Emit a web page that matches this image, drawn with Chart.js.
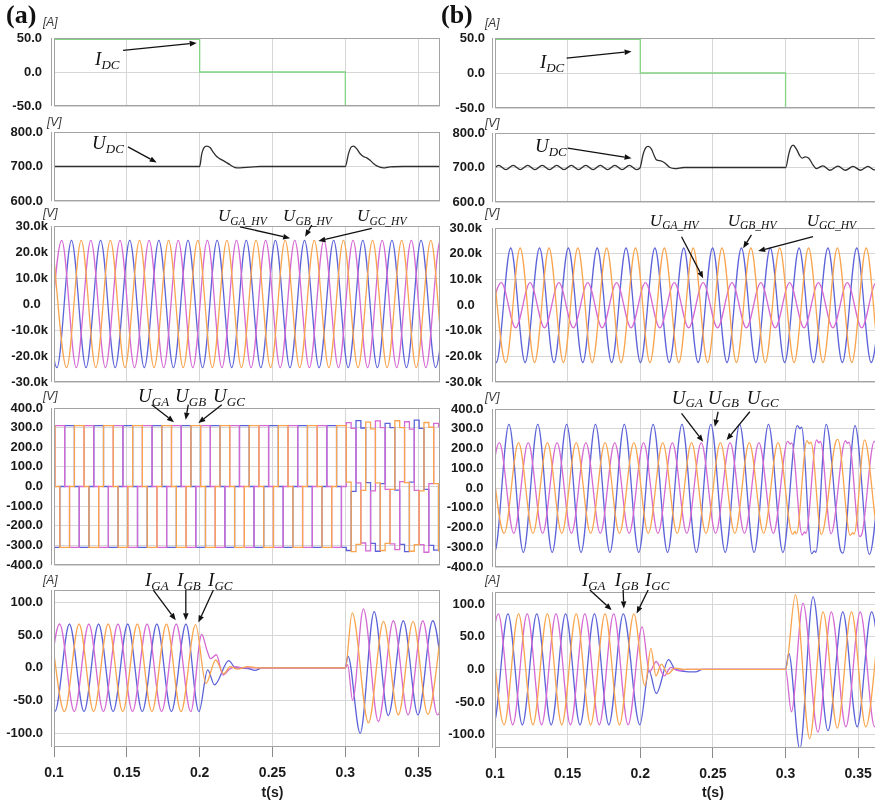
<!DOCTYPE html>
<html>
<head>
<meta charset="utf-8">
<title>Grid-side converter waveforms</title>
<script src="https://cdn.jsdelivr.net/npm/chart.js@4.4.1/dist/chart.umd.min.js"></script>
<style>
  html, body { margin: 0; padding: 0; background: #fff; }
  body { position: relative; width: 875px; height: 803px; overflow: hidden; font-family: "Liberation Sans", Arial, sans-serif; }
  canvas { position: absolute; }
  svg { position: absolute; left: 0; top: 0; z-index: 5; }
  .txt { position: absolute; white-space: nowrap; line-height: 1; z-index: 6; }
  .tag { font-family: "Liberation Serif", "Times New Roman", serif; font-weight: bold; font-size: 26px; color: #111; }
  .unit { font-style: italic; font-size: 12px; color: #3a3a3a; transform: translateY(-50%); }
  .sig { font-family: "Liberation Serif", "Times New Roman", serif; font-style: italic; color: #111; transform: translateY(-50%); }
  .sig sub { vertical-align: baseline; position: relative; top: 0.3em; }
  .ttl { font-weight: bold; font-size: 14px; color: #1a1a1a; transform: translate(-50%, -50%); }
</style>
</head>
<body>
<svg id="arrows" width="875" height="803"></svg>
<script>
// ===================== data (time in ms) =====================
const X_TICKS = [0.1, 0.15, 0.2, 0.25, 0.3, 0.35];
const TICKS_IDC = [-50, 0, 50];
const TICKS_UDC = [600, 700, 800];
const TICKS_UHV = [-30000, -20000, -10000, 0, 10000, 20000, 30000];
const TICKS_UG = [-400, -300, -200, -100, 0, 100, 200, 300, 400];
const TICKS_IG = [-100, -50, 0, 50, 100];

const HALF_A = 10;      // half period of the ac quantities, case (a)
const HALF_B = 9.925;   // half period, case (b)
const SECTOR = 10 / 3;  // 60-degree switching sector, ms

// ---------- case (a) ----------
const idcA = [[100,48],[200,48],[200,0],[300,0],[300,-50],[366,-50]];
const udcA = [[100,700],[200,700],[201.4,736],[203,755],[204.9,759],[207.1,755],[209.4,741],[211.7,729],[214,722],[216.3,717],[220.9,705],[224.3,697],[227.7,696],[234.6,698],[241.5,700],[300,700],[302.1,736],[303.8,755],[305.6,759],[307.9,751],[310.2,737],[312.4,729],[314.7,725],[317,718],[319.3,709],[321.6,702],[326.2,696],[330.8,699],[340,700],[366,700]];

// HV-side voltages: first extreme (ms) of GA, GB, GC, then successive extremes
const uhvStartA = [95.3, 92.0, 98.7];
const uhvGA_a = [-24500,24500,-24500,24500,-24500,24500,-24500,24500,-24500,24500,-24500,24500,-24500,24500,-24500,24500,-24500,24500,-24500,24500,-24500,24500,-24500,24500,-24500,24500,-24500,24500,-24500];
const uhvGB_a = [24500,-24500,24500,-24500,24500,-24500,24500,-24500,24500,-24500,24500,-24500,24500,-24500,24500,-24500,24500,-24500,24500,-24500,24500,-24500,24500,-24500,24500,-24500,24500,-24500,24500];
const uhvGC_a = [24500,-24500,24500,-24500,24500,-24500,24500,-24500,24500,-24500,24500,-24500,24500,-24500,24500,-24500,24500,-24500,24500,-24500,24500,-24500,24500,-24500,24500,-24500,24500,-24500,24500];

// converter voltages: level held in each 60-degree sector, first sector starts at 97.33 ms
const ugStartA = 97.33;
const ugGA_a = [0,310,310,0,-310,-310, 0,310,310,0,-310,-310, 0,310,310,0,-310,-310, 0,310,310,0,-310,-310, 0,310,310,0,-310,-310,
  0,310,310,0,-310,-310, 0,310,310,0,-310,-310, 0,310,310,0,-310,-310, 0,310,310,0,-310,-310, 0,310,310,0,-310,-310,
  0, 325,296,18,-288,-328,-22,334,300,-15,-292,-322,25,330,292,-20,-296,-335,15,322,305,0];
const ugGB_a = [-310,-310,0,310,310,0, -310,-310,0,310,310,0, -310,-310,0,310,310,0, -310,-310,0,310,310,0, -310,-310,0,310,310,0,
  -310,-310,0,310,310,0, -310,-310,0,310,310,0, -310,-310,0,310,310,0, -310,-310,0,310,310,0, -310,-310,0,310,310,0,
  -310, -326,-25,336,298,20,-290,-330,15,322,300,-18,-295,-332,22,338,296,-15,-300,-324,12,300];
const ugGC_a = [310,0,-310,-310,0,310, 310,0,-310,-310,0,310, 310,0,-310,-310,0,310, 310,0,-310,-310,0,310, 310,0,-310,-310,0,310,
  310,0,-310,-310,0,310, 310,0,-310,-310,0,310, 310,0,-310,-310,0,310, 310,0,-310,-310,0,310, 310,0,-310,-310,0,310,
  310, 22,-332,-295,-20,328,294,18,-326,-290,-15,335,300,20,-330,-296,-22,326,302,15,-328,-300];

// grid currents: steady extremes, then the blocking / restart transients
const igStartA = [93.9, 90.6, 97.2];
const igGA_a = [-67,67,-67,67,-67,67,-67,67,-67,67,-67];
const igGB_a = [67,-67,67,-67,67,-67,67,-67,67,-67,67];
const igGC_a = [67,-67,67,-67,67,-67,67,-67,67,-67,66];
const igGA_aTail = [[201.4,51],[205,27],[207.5,14],[211.5,20],[216,-11],[220.5,-2],[224.5,2],[229,0],[300,0],[301.6,5],[305,-50],[312.4,90],[322.7,-82],[333,72],[343.1,-72],[353.2,72],[363.3,-72],[373.4,72]];
const igGB_aTail = [[199.5,-67],[205.5,-3],[210.2,-26],[220,11],[224.5,0],[233,-1],[238,-4],[243,0],[300,0],[301.8,18],[310.2,-100],[319.8,86],[329.5,-73],[339.8,72],[349.9,-72],[360,72],[370,-72]];
const igGC_aTail = [[204.3,-24],[211,12],[216.5,-9],[221,2],[226,-2],[233,2],[240,0],[300,0],[304.7,84],[315.9,-84],[326.2,71],[336.4,-72],[346.5,71],[356.6,-71],[366.7,71]];

// ---------- case (b) ----------
const idcB = [[100,48],[200,48],[200,0],[300,0],[300,-50],[366,-50]];
const udcB = [[100,700],[102.5,706],[107.5,694],[112.5,706],[117.5,694],[122.5,706],[127.5,694],[132.5,706],[137.5,694],[142.5,706],[147.5,694],[152.5,706],[157.5,694],[162.5,706],[167.5,694],[172.5,706],[177.5,694],[182.5,706],[187.5,694],[192.5,706],[197.5,694],[199.7,698],[202,739],[203.6,756],[205.4,761],[207.7,753],[209.6,734],[211.2,722],[214.2,719.5],[216.9,713],[220.4,700],[223.8,697],[230,700],[300.1,700],[302.2,739],[303.6,758],[305.2,765],[307.5,753],[309.8,734],[311.4,727],[313.5,731],[316,727],[319,707],[321.3,697],[325.8,705],[330.4,692],[336.1,704],[341.2,692],[346.4,703],[351.7,692],[356.7,703],[361.3,693],[366,703]];

const uhvStartB = [94.375, 90.95, 97.475];
const uhvGA_b = [-8900,8700,-8900,8700,-8900,8700,-8900,8700,-8900,8700,-8900,8700,-8900,8700,-8900,8700,-8900,8700,-8900,8700,-8900,8700,-8900,8700,-8900,8700,-8900,8700,-8900];
const uhvGB_b = [22200,-22400,22200,-22400,22200,-22400,22200,-22400,22200,-22400,22200,-22400,22200,-22400,22200,-22400,22200,-22400,22200,-22400,22200,-22400,22200,-22400,22200,-22400,22200,-22400,22200];
const uhvGC_b = [22200,-22400,22200,-22400,22200,-22400,22200,-22400,22200,-22400,22200,-22400,22200,-22400,22200,-22400,22200,-22400,22200,-22400,22200,-22400,22200,-22400,22200,-22400,22200,-22400,22200];

const ugStartB = [93.075, 89.75, 96.35];
const ugGA_b = [-230,230,-230,230,-230,230,-230,230,-230,230,-230,230,-230,230,-230,230,-230,230,-230,230,-230];
const ugGB_b = [322,-326,322,-326,322,-326,322,-326,322,-326,322,-326,322,-326,322,-326,322,-326,322,-326,322,-326];
const ugGC_b = [230,-230,230,-230,230,-230,230,-230,230,-230,230,-230,230,-230,230,-230,230,-230,230,-230,230];
const ugGA_bTail = [[301.5,236],[303.2,222],[304.2,228],[311.4,-238],[313,-222],[314,-230],[321.35,244],[323,228],[324,236],[331.3,-232],[341.2,240],[342.6,226],[343.6,232],[351.1,-246],[352.7,-230],[361.05,236],[371,-236]];
const ugGB_bTail = [[308.1,316],[310,300],[311,308],[318,-333],[319.8,-318],[320.8,-326],[327.95,322],[337.9,-318],[339.5,-330],[347.8,316],[357.7,-336],[367.6,318]];
const ugGC_bTail = [[304.8,-234],[306.5,-220],[307.5,-232],[314.7,240],[316.4,224],[317.5,232],[324.6,-236],[334.5,234],[336,246],[344.5,-240],[346.2,-226],[347.2,-234],[354.4,244],[364.3,-238],[374.2,236]];

const igStartB = [92.375, 89.05, 96.35];
const igGA_b = [-85,85,-85,85,-85,85,-85,85,-85,85,-85];
const igGB_b = [85,-85,85,-85,85,-85,85,-85,85,-85,85];
const igGC_b = [85,-85,85,-85,85,-85,85,-85,85,-85,85];
const igGA_bTail = [[201.3,65],[206.3,-4],[211,12],[216.5,-10],[221,3],[226,-2],[232,0],[300,0],[304,-65],[312,101],[322.3,-96],[331.5,88],[341.5,-88],[351.4,88],[361.3,-88],[371.2,88]];
const igGB_bTail = [[199.7,-85],[206,-2],[211,-37],[219.5,15],[224,0],[238,-4],[243,0],[300,0],[302.2,25],[309.8,-122],[318.9,111],[329.2,-94],[339.4,88],[349.3,-88],[359.2,88],[369.1,-88]];
const igGC_bTail = [[203.2,-25],[207.3,32],[210.8,-10],[214.5,8],[219,-7],[224,2],[230,0],[300,0],[306.8,114],[316.6,-106],[325.8,88],[335.6,-90],[345.4,88],[355.2,-88],[365.1,88]];

// ===================== look =====================
const PINK = '#d56ad3', BLUE = '#5c63d8', ORANGE = '#f9a54f', GREEN = '#84d484', DARK = '#2e2e2e';
const GRID = '#d6d6d6', FRAME = '#a3a3a3';

const COLS = {
  a: { left: 54, width: 386, rows: [[38,106],[132,201],[226,382],[408,565],[590,747]], pad: [12, 11, 6, 11, 11] },
  b: { left: 495, width: 385, rows: [[38,108],[133,202],[228,382],[409,567],[592,748]], pad: [10, 10, 13, 11.5, 10] }
};

const f1 = v => v.toFixed(1);
const fk = v => v === 0 ? '0.0\u2007' : (v / 1000).toFixed(1) + 'k';
const Y_AXES = [
  { min: -50, max: 50, ticks: TICKS_IDC, fmt: f1 },
  { min: 600, max: 800, ticks: TICKS_UDC, fmt: f1 },
  { min: -30000, max: 30000, ticks: TICKS_UHV, fmt: fk },
  { min: -400, max: 400, ticks: TICKS_UG, fmt: f1 },
  { min: -121, max: 119, ticks: TICKS_IG, fmt: f1 }
];

// ===================== helpers =====================
const toXY = p => ({ x: p[0] / 1000, y: p[1] });
const swing = (t0, half, vals) => vals.map((v, i) => [t0 + i * half, v]);

function wave(points, color) {
  return { data: points.map(toXY), borderColor: color, borderWidth: 1.3, pointRadius: 0, fill: false, cubicInterpolationMode: 'monotone' };
}
function straight(points, color) {
  return { data: points.map(toXY), borderColor: color, borderWidth: 1.3, pointRadius: 0, fill: false, tension: 0 };
}
function steps(points, color) {
  return { data: points.map(toXY), borderColor: color, borderWidth: 1.3, pointRadius: 0, fill: false, stepped: true };
}

const framePlugin = {
  id: 'frame',
  afterDraw(chart) {
    const { ctx, chartArea: a } = chart;
    ctx.save();
    ctx.strokeStyle = FRAME;
    ctx.lineWidth = 1;
    ctx.strokeRect(a.left + 0.5, a.top + 0.5, a.right - a.left - 1, a.bottom - a.top - 1);
    ctx.beginPath();
    ctx.moveTo(a.left - 2.5, a.top);
    ctx.lineTo(a.left - 2.5, a.bottom);
    ctx.stroke();
    ctx.restore();
  }
};

const charts = {};
function makeChart(col, row, datasets) {
  const C = COLS[col];
  const [top, bottom] = C.rows[row];
  const last = row === 4;
  const PAD = 30, YW = 54, PR = 20;
  const xh = last ? 803 - bottom : 0;
  const w = YW + C.width + PR;
  const h = PAD + (bottom - top) + (last ? xh : PAD);
  const cv = document.createElement('canvas');
  cv.width = w; cv.height = h;
  cv.style.width = w + 'px'; cv.style.height = h + 'px';
  cv.style.left = (C.left - YW) + 'px';
  cv.style.top = (top - PAD) + 'px';
  document.body.appendChild(cv);
  const Y = Object.assign({}, Y_AXES[row]);
  if (col === 'b' && row === 4) { Y.min = -120.5; Y.max = 118.5; }
  const chart = new Chart(cv, {
    type: 'line',
    data: { datasets },
    plugins: [framePlugin],
    options: {
      responsive: false, animation: false, devicePixelRatio: 1, events: [],
      layout: { padding: { left: 0, right: PR, top: PAD, bottom: last ? 0 : PAD } },
      plugins: { legend: { display: false }, tooltip: { enabled: false } },
      elements: { line: { capBezierPoints: false } },
      scales: {
        x: {
          type: 'linear', min: 0.1, max: 0.365,
          afterBuildTicks: s => { s.ticks = X_TICKS.map(v => ({ value: v })); },
          afterFit: s => { s.height = xh; },
          border: { display: false },
          grid: { color: GRID, lineWidth: 1, drawTicks: last, tickLength: 10, tickColor: '#8a8a8a' },
          ticks: {
            display: last, padding: 8, maxRotation: 0, autoSkip: false, color: '#1a1a1a',
            font: { family: 'Liberation Sans', size: 14, weight: 'bold' },
            callback: v => String(v)
          }
        },
        y: {
          min: Y.min, max: Y.max,
          afterBuildTicks: s => { s.ticks = Y.ticks.map(v => ({ value: v })); },
          afterFit: s => { s.width = YW; },
          border: { display: false },
          grid: { color: GRID, lineWidth: 1, drawTicks: false },
          ticks: {
            padding: C.pad[row], color: '#1a1a1a', autoSkip: false,
            font: { family: 'Liberation Sans', size: 13, weight: 'bold' },
            callback: v => Y.fmt(v)
          }
        }
      }
    }
  });
  charts[col + (row + 1)] = chart;
  return chart;
}

// ===================== panels =====================
// (a)
makeChart('a', 0, [straight(idcA, GREEN)]);
makeChart('a', 1, [wave(udcA, DARK)]);
makeChart('a', 2, [
  wave(swing(uhvStartA[2], HALF_A, uhvGC_a), ORANGE),
  wave(swing(uhvStartA[0], HALF_A, uhvGA_a), PINK),
  wave(swing(uhvStartA[1], HALF_A, uhvGB_a), BLUE)
]);
makeChart('a', 3, [
  steps(swing(ugStartA, SECTOR, ugGC_a), ORANGE),
  steps(swing(ugStartA, SECTOR, ugGA_a), PINK),
  steps(swing(ugStartA, SECTOR, ugGB_a), BLUE)
]);
makeChart('a', 4, [
  wave(swing(igStartA[2], HALF_A, igGC_a).concat(igGC_aTail), ORANGE),
  wave(swing(igStartA[0], HALF_A, igGA_a).concat(igGA_aTail), PINK),
  wave(swing(igStartA[1], HALF_A, igGB_a).concat(igGB_aTail), BLUE)
]);
// (b)
makeChart('b', 0, [straight(idcB, GREEN)]);
makeChart('b', 1, [wave(udcB, DARK)]);
makeChart('b', 2, [
  wave(swing(uhvStartB[2], HALF_B, uhvGC_b), ORANGE),
  wave(swing(uhvStartB[0], HALF_B, uhvGA_b), PINK),
  wave(swing(uhvStartB[1], HALF_B, uhvGB_b), BLUE)
]);
makeChart('b', 3, [
  wave(swing(ugStartB[2], HALF_B, ugGC_b).concat(ugGC_bTail), ORANGE),
  wave(swing(ugStartB[0], HALF_B, ugGA_b).concat(ugGA_bTail), PINK),
  wave(swing(ugStartB[1], HALF_B, ugGB_b).concat(ugGB_bTail), BLUE)
]);
makeChart('b', 4, [
  wave(swing(igStartB[2], HALF_B, igGC_b).concat(igGC_bTail), ORANGE),
  wave(swing(igStartB[0], HALF_B, igGA_b).concat(igGA_bTail), PINK),
  wave(swing(igStartB[1], HALF_B, igGB_b).concat(igGB_bTail), BLUE)
]);

// ===================== text and arrows =====================
function at(key, tms, v) {
  const c = charts[key];
  return [parseFloat(c.canvas.style.left) + c.scales.x.getPixelForValue(tms / 1000),
          parseFloat(c.canvas.style.top) + c.scales.y.getPixelForValue(v)];
}
function addText(cls, html, x, y, style) {
  const d = document.createElement('div');
  d.className = 'txt ' + cls;
  d.innerHTML = html;
  d.style.left = x + 'px';
  d.style.top = y + 'px';
  if (style) d.style.cssText += style;
  document.body.appendChild(d);
  return d;
}
const svg = document.getElementById('arrows');
function arrow(p, q) {
  const NS = 'http://www.w3.org/2000/svg';
  const dx = q[0] - p[0], dy = q[1] - p[1], L = Math.hypot(dx, dy);
  const ux = dx / L, uy = dy / L, hl = 7, hw = 2.8;
  const bx = q[0] - ux * hl, by = q[1] - uy * hl;
  const ln = document.createElementNS(NS, 'line');
  ln.setAttribute('x1', p[0]); ln.setAttribute('y1', p[1]);
  ln.setAttribute('x2', bx); ln.setAttribute('y2', by);
  ln.setAttribute('stroke', '#111'); ln.setAttribute('stroke-width', '1.3');
  svg.appendChild(ln);
  const pg = document.createElementNS(NS, 'polygon');
  pg.setAttribute('points', `${q[0]},${q[1]} ${bx - uy * hw},${by + ux * hw} ${bx + uy * hw},${by - ux * hw}`);
  pg.setAttribute('fill', '#111');
  svg.appendChild(pg);
}

// signal names: [panel, letter, subscript, main size, sub size, label anchor (ms, value), arrow tail, arrow head]
const NOTES = [
  ['a1', 'I', 'DC', 19, 13, [128.2, 20], [147.4, 31.9], [198, 42.7]],
  ['a2', 'U', 'DC', 19, 13, [126.1, 771.7], [150.8, 756.7], [170.5, 711.7]],
  ['a3', 'U', 'GA_HV', 17, 11.5, [212.6, 34200], [227.7, 29700], [262.1, 25300]],
  ['a3', 'U', 'GB_HV', 17, 11.5, [257.3, 34200], [277, 30400], [272.4, 25900]],
  ['a3', 'U', 'GC_HV', 17, 11.5, [308.1, 34200], [318.2, 29100], [281.5, 24200]],
  ['a4', 'U', 'GA', 19, 13, [157.7, 468], [167.1, 417], [182.4, 328]],
  ['a4', 'U', 'GB', 19, 13, [183.1, 468], [192.2, 417], [190.4, 340]],
  ['a4', 'U', 'GC', 19, 13, [209.2, 468], [215.2, 417], [199.1, 323]],
  ['a5', 'I', 'GA', 19, 13, [162.5, 135.7], [168.2, 118.9], [183.6, 72.9]],
  ['a5', 'I', 'GB', 19, 13, [184.5, 135.7], [190.5, 118.9], [190.5, 72.9]],
  ['a5', 'I', 'GC', 19, 13, [205.8, 135.7], [209.4, 118.9], [199.1, 69.3]],
  ['b1', 'I', 'DC', 19, 13, [130.9, 16.6], [149.3, 21.2], [194, 30.7]],
  ['b2', 'U', 'DC', 19, 13, [127.5, 764.5], [150, 756], [194, 727]],
  ['b3', 'U', 'GA_HV', 17, 11.5, [206.6, 33300], [228.4, 26600], [243.3, 10400]],
  ['b3', 'U', 'GB_HV', 17, 11.5, [260.2, 33300], [276.5, 27300], [270.8, 22100]],
  ['b3', 'U', 'GC_HV', 17, 11.5, [314.6, 33300], [318.9, 26600], [281.1, 21000]],
  ['b4', 'U', 'GA', 19, 13, [221.7, 463], [228.4, 378], [243.3, 234]],
  ['b4', 'U', 'GB', 19, 13, [246.5, 463], [253.6, 386], [251.3, 310]],
  ['b4', 'U', 'GC', 19, 13, [273.3, 463], [275.4, 386], [259.4, 243]],
  ['b5', 'I', 'GA', 19, 13, [159.8, 139], [165.3, 121.5], [180.3, 90.8]],
  ['b5', 'I', 'GB', 19, 13, [182.5, 139], [188.2, 121.5], [188.7, 93.4]],
  ['b5', 'I', 'GC', 19, 13, [203.2, 139], [205.4, 121.5], [197.5, 85.7]]
];
NOTES.forEach(([k, main, sub, fs, ss, lab, from, to]) => {
  const p = at(k, lab[0], lab[1]);
  addText('sig', `${main}<sub style="font-size:${ss}px">${sub}</sub>`, p[0], p[1], `font-size:${fs}px;`);
  arrow(at(k, from[0], from[1]), at(k, to[0], to[1]));
});

// units above each y axis: [text, dx from plot left, dy from plot top]
const UNITS = {
  a: [['[A]', -11, -16], ['[V]', -7, -10], ['[V]', -11, -13.5], ['[V]', -11, -12], ['[A]', -11, -10]],
  b: [['[A]', -10, -15], ['[V]', -10, -10], ['[V]', -10, -15], ['[V]', -10, -12], ['[A]', -10, -12]]
};
['a', 'b'].forEach(col => {
  UNITS[col].forEach(([t, dx, dy], r) => addText('unit', t, COLS[col].left + dx, COLS[col].rows[r][0] + dy));
});

addText('tag', '(a)', 6, 2);
addText('tag', '(b)', 441, 2);
addText('ttl', 't(s)', at('a5', 250, 0)[0], 792);
addText('ttl', 't(s)', at('b5', 250, 0)[0], 792);
</script>
</body>
</html>
